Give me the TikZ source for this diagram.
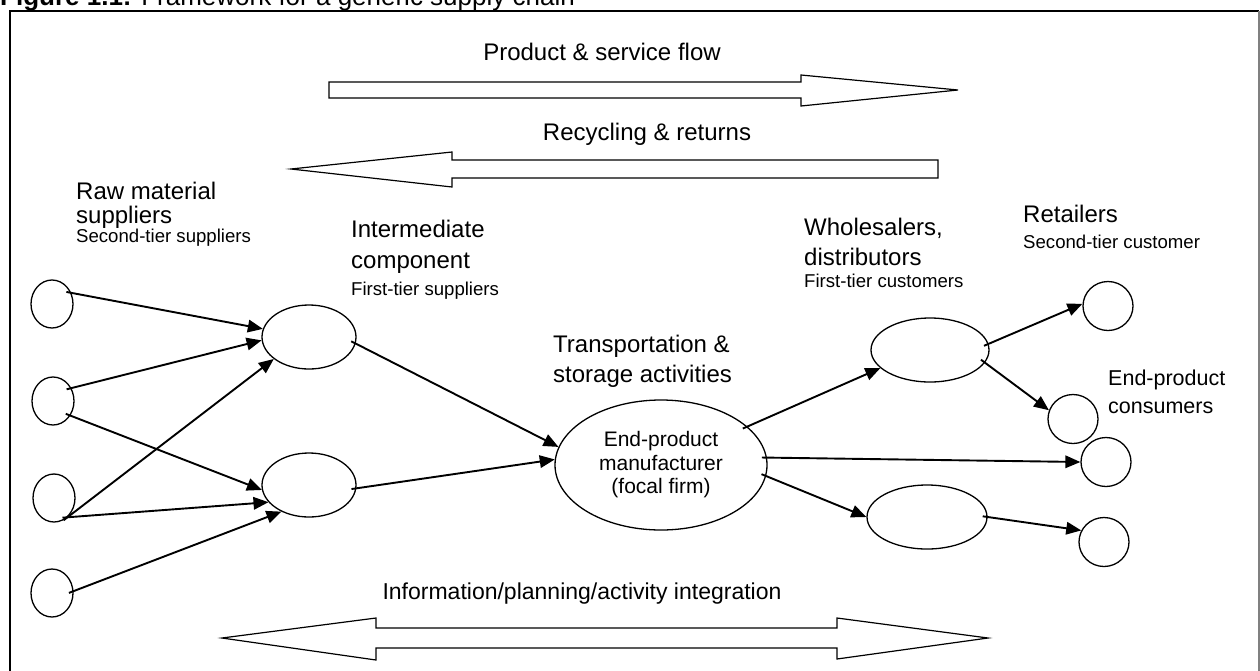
\documentclass[tikz,border=0pt]{standalone}
\usepackage{fontspec}
\setmainfont{Liberation Sans}
\usetikzlibrary{arrows.meta,shapes.geometric}

\newcommand{\BigFont}{\fontsize{24}{30}\selectfont}
\newcommand{\MidFont}{\fontsize{21}{23.5}\selectfont}
\newcommand{\SmallFont}{\fontsize{18.6}{22}\selectfont}

\tikzset{
  Party/.style={draw, ellipse, line width=1.3pt, inner sep=0pt,
                minimum width=42pt, minimum height=48pt},
  Outlet/.style={draw, ellipse, line width=1.3pt, inner sep=0pt,
                 minimum width=50pt, minimum height=49pt},
  Tier/.style={draw, ellipse, line width=1.3pt, inner sep=0pt,
               minimum width=#1, minimum height=64pt},
  Tier/.default=94pt,
  Flow/.style={line width=1.9pt, shorten <=-5pt, -{Triangle[length=15pt,width=12.5pt]}},
  BlockArrow/.style={line width=1.2pt},
  Heading/.style={font=\BigFont, inner sep=0pt, anchor=north west, align=left},
  Subheading/.style={font=\SmallFont, inner sep=0pt, anchor=base west},
  Banner/.style={font=\BigFont, inner sep=0pt, anchor=base},
}

\newcommand{\Canvas}{
\useasboundingbox (0,0) rectangle (1260,670);
% frame round the figure
\draw[line width=2pt] (10,700) -- (10,11) -- (1259,11);
\draw[gray, line width=2pt] (1259,11) -- (1259,700);
}

\begin{document}
\begin{tikzpicture}[x=1pt, y=-1pt]
\Canvas
\node[anchor=base west, inner sep=0pt, font=\fontsize{26}{30}\selectfont] (title) at (0,5)
    {\textbf{Figure 1.1:} Framework for a generic supply chain};

% flows across the chain
\node[Banner] (flow-label) at (602,60) {Product \& service flow};
\draw[BlockArrow] (329,82) -- (801,82) -- (801,75) -- (958,90) -- (801,106)
    -- (801,98) -- (329,98) -- cycle;
\node[Banner] (return-label) at (647,140) {Recycling \& returns};
\draw[BlockArrow] (291,169) -- (452,152) -- (452,160) -- (938,160) -- (938,178)
    -- (452,178) -- (452,187) -- cycle;
\node[Banner, font=\fontsize{23}{28}\selectfont] (info-label) at (582,599)
    {Information/planning/activity integration};
\draw[BlockArrow] (222,638) -- (376,618) -- (376,628) -- (837,628) -- (837,618)
    -- (988,638) -- (837,659) -- (837,648) -- (376,648) -- (376,660) -- cycle;

% tier labels
\node[Heading, font=\fontsize{24}{24}\selectfont] (raw-label) at (76,182) {Raw material\\suppliers};
\node[Subheading] (raw-sub) at (76,242) {Second-tier suppliers};
\node[Heading, font=\fontsize{24}{31}\selectfont] (int-label) at (351,220) {Intermediate\\component};
\node[Subheading] (int-sub) at (351,295) {First-tier suppliers};
\node[Heading] (trans-label) at (553,335) {Transportation \&\\storage activities};
\node[Heading] (whole-label) at (804,218) {Wholesalers,\\distributors};
\node[Subheading] (whole-sub) at (804,287) {First-tier customers};
\node[Heading] (retail-label) at (1023,205) {Retailers};
\node[Subheading] (retail-sub) at (1023,248) {Second-tier customer};
\node[Heading, font=\fontsize{21.5}{28}\selectfont] (cons-label) at (1108,370) {End-product\\consumers};

% parties
\node[Party] (s1) at (52,304) {};
\node[Party] (s2) at (53,401) {};
\node[Party] (s3) at (54,498) {};
\node[Party] (s4) at (52,593) {};
\node[Tier] (i1) at (309,337) {};
\node[Tier] (i2) at (309,485) {};
\node[draw, ellipse, line width=1.3pt, inner sep=0pt, minimum width=212pt,
      minimum height=130pt, align=center, font=\MidFont] (m) at (661,465)
    {End-product\\manufacturer\\(focal firm)};
\node[Tier=118pt] (w1) at (930,350) {};
\node[Tier=120pt] (w2) at (927,517) {};
\node[Outlet] (r1) at (1108,306) {};
\node[Outlet] (c1) at (1073,419) {};
\node[Outlet] (c2) at (1106,462) {};
\node[Outlet] (r2) at (1104,542) {};

% supply links
\draw[Flow] (s1.30) -- (i1.170);
\draw[Flow] (s2.35) -- (i1.184);
\draw[Flow] (s3.-55) -- (i1.212);
\draw[Flow] (s2.-40) -- (i2.186);
\draw[Flow] (s3.-55) -- (i2.203);
\draw[Flow] (s4.5) -- (i2.224);
\draw[Flow] (i1.-8) -- (m.170);
\draw[Flow] (i2.-4) -- (m.177);
\draw[Flow] (m.24) -- (w1.200);
\draw[Flow] (m.4) -- (c2.west);
\draw[Flow] (m.-6) -- (w2.west);
\draw[Flow] (w1.6) -- (r1.175);
\draw[Flow] (w1.-13) -- (c1.160);
\draw[Flow] (w2.east) -- (r2.153);
\end{tikzpicture}
\end{document}
